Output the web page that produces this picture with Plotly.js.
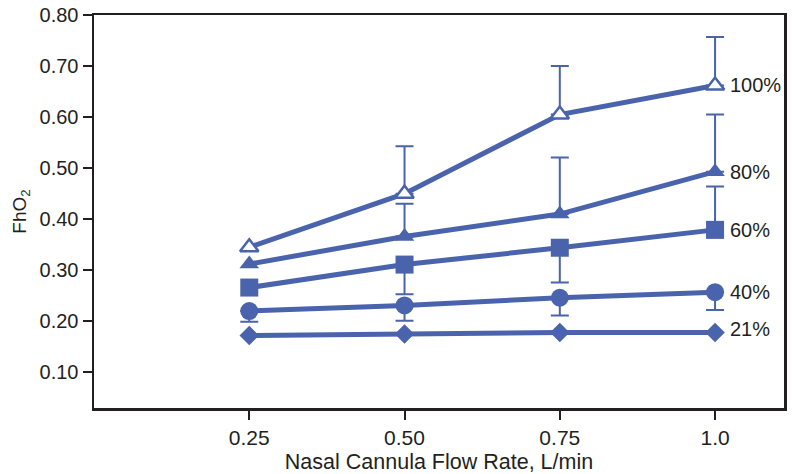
<!DOCTYPE html>
<html>
<head>
<meta charset="utf-8">
<script src="https://cdn.plot.ly/plotly-3.0.1.min.js"></script>
<style>html,body{margin:0;padding:0;background:#fff;}#chart{width:793px;height:474px;}</style>
</head>
<body>
<div id="chart"></div>
<script>
// Data
var flowRates = [0.25, 0.50, 0.75, 1.0];
var tickLabels = ['0.25', '0.50', '0.75', '1.0'];
var seriesNames = ['100%', '80%', '60%', '40%', '21%'];

var fio100 = [0.345, 0.450, 0.605, 0.662];
var fio80  = [0.312, 0.366, 0.410, 0.493];
var fio60  = [0.266, 0.311, 0.344, 0.379];
var fio40  = [0.220, 0.231, 0.246, 0.257];
var fio21  = [0.172, 0.175, 0.178, 0.178];

// error bar sizes (upper / lower), NaN = no bar
var err100Up = [NaN, 0.093, 0.095, 0.095];
var err100Dn = [NaN, 0, 0, 0];
var err80Up  = [NaN, 0.064, 0.111, 0.112];
var err80Dn  = [NaN, 0, 0, 0];
var err60Up  = [NaN, 0, 0, 0.085];
var err60Dn  = [NaN, 0.058, 0.068, 0];
var err40Up  = [0, 0, 0, 0];
var err40Dn  = [0.021, 0.030, 0.035, 0.035];

var yTickVals = [0.1, 0.2, 0.3, 0.4, 0.5, 0.6, 0.7, 0.8];
var yTickText = ['0.10', '0.20', '0.30', '0.40', '0.50', '0.60', '0.70', '0.80'];

var blue = '#4a63ad';
var ink = '#231f20';
var fontFam = '"Liberation Sans", Arial, sans-serif';

function series(y, sym, size, fill, up, dn) {
  var t = {
    x: flowRates, y: y, type: 'scatter', mode: 'lines+markers',
    line: {color: blue, width: 5},
    marker: {symbol: sym, size: size, color: fill, line: {color: blue, width: fill === '#ffffff' ? 2.5 : 0}},
    cliponaxis: false, showlegend: false, hoverinfo: 'x+y'
  };
  if (up) {
    t.error_y = {type: 'data', symmetric: false, array: up, arrayminus: dn,
                 color: blue, thickness: 2, width: 9};
  }
  return t;
}

var data = [
  series(fio21, 'diamond', 15, blue, null, null),
  series(fio40, 'circle', 18, blue, err40Up, err40Dn),
  series(fio60, 'square', 18, blue, err60Up, err60Dn),
  series(fio80, 'triangle-up', 17, blue, err80Up, err80Dn),
  series(fio100, 'triangle-up', 16, '#ffffff', err100Up, err100Dn)
];

var lastVals = [fio100[3], fio80[3], fio60[3], fio40[3], fio21[3]];
var labelShift = [0, 0, 0, 0, 3];
var annotations = seriesNames.map(function (n, i) {
  return {x: flowRates[3], y: lastVals[i], xref: 'x', yref: 'y', text: n,
          showarrow: false, xanchor: 'left', yanchor: 'middle', xshift: 13, yshift: labelShift[i],
          font: {family: fontFam, size: 20, color: ink}};
});

var layout = {
  width: 793, height: 474,
  margin: {l: 94, r: 9, t: 15, b: 66},
  paper_bgcolor: '#ffffff', plot_bgcolor: '#ffffff',
  font: {family: fontFam, color: ink, size: 20},
  xaxis: {
    range: [0, 1.111], tickmode: 'array', tickvals: flowRates, ticktext: tickLabels,
    showgrid: false, zeroline: false, showline: true, linecolor: ink, linewidth: 2.5,
    mirror: true, ticks: 'outside', ticklen: 9, tickwidth: 2, tickcolor: ink,
    tickfont: {family: fontFam, size: 21, color: ink},
    title: {text: 'Nasal Cannula Flow Rate, L/min', font: {family: fontFam, size: 21.5, color: ink}, standoff: 6}
  },
  yaxis: {
    range: [0.03, 0.80], tickmode: 'array', tickvals: yTickVals, ticktext: yTickText,
    showgrid: false, zeroline: false, showline: true, linecolor: ink, linewidth: 2.5,
    mirror: true, ticks: 'outside', ticklen: 9, tickwidth: 2, tickcolor: ink,
    tickfont: {family: fontFam, size: 20, color: ink},
    title: {text: 'FhO<sub>2</sub>', font: {family: fontFam, size: 19, color: ink}, standoff: 8}
  },
  annotations: annotations
};

Plotly.newPlot('chart', data, layout, {displayModeBar: false, staticPlot: true});
</script>
</body>
</html>
